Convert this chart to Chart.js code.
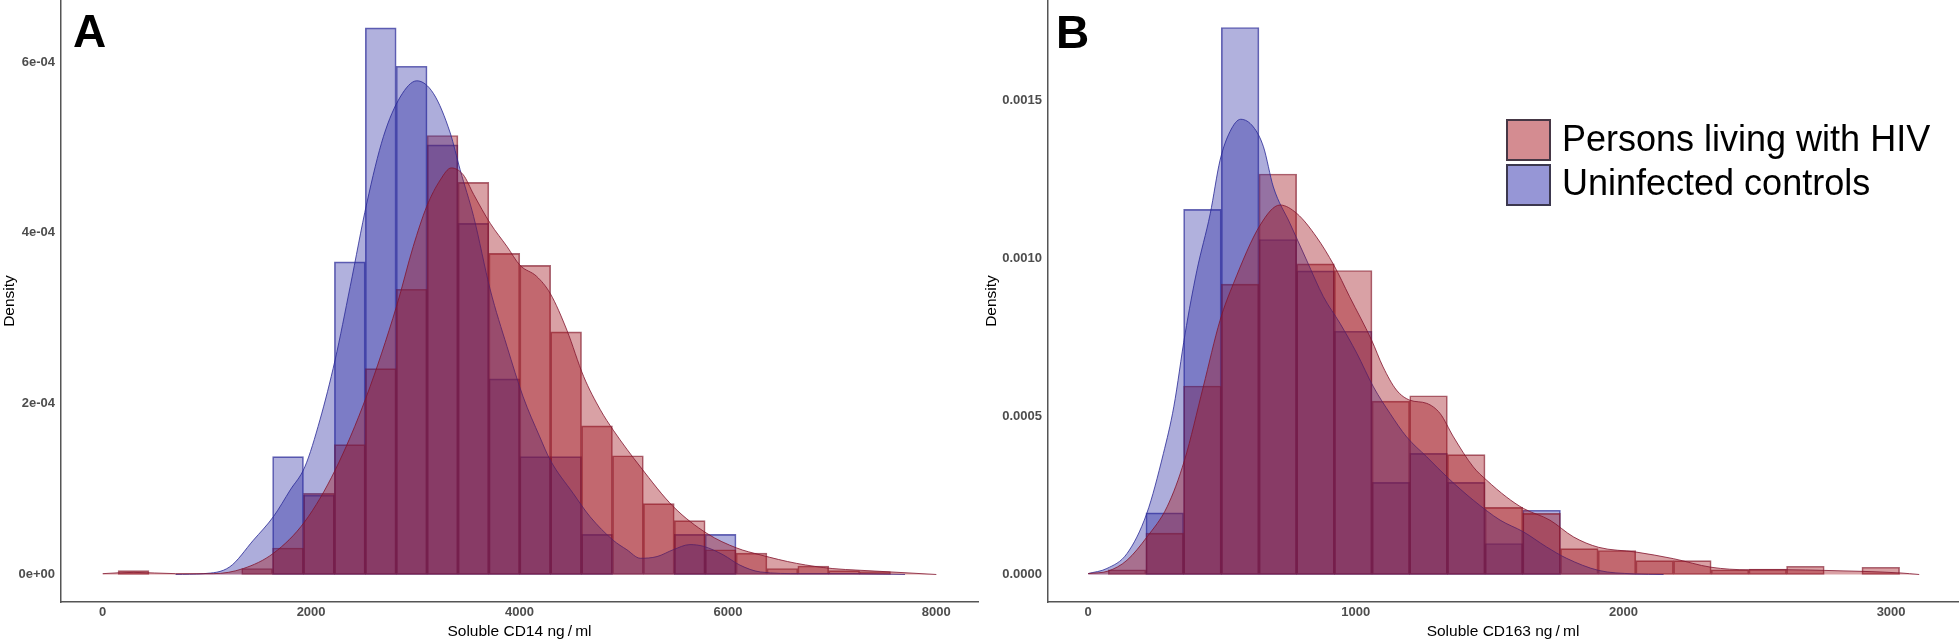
<!DOCTYPE html>
<html>
<head>
<meta charset="utf-8">
<script src="https://cdn.jsdelivr.net/npm/chart.js@4.4.0/dist/chart.umd.min.js"></script>
<style>
  body { margin: 0; background: #fff; width: 1960px; height: 643px; overflow: hidden; position: relative;
         font-family: "Liberation Sans", Arial, Helvetica, sans-serif; }
  canvas { position: absolute; top: 0; }
  #cd14 { left: 0; }
  #cd163 { left: 980px; }
  .tag { position: absolute; font-size: 46px; font-weight: bold; line-height: 1; color: #000; }
  .key { position: absolute; width: 41px; height: 38px; border: 2px solid rgba(45, 40, 55, 0.85); }
  .keytext { position: absolute; font-size: 36px; line-height: 1; color: #000; white-space: nowrap; }
</style>
</head>
<body>
<canvas id="cd14" width="980" height="643"></canvas>
<canvas id="cd163" width="980" height="643"></canvas>

<div class="tag" style="left:73px; top:8px;">A</div>
<div class="tag" style="left:1056px; top:9px;">B</div>

<div class="key" style="left:1506px; top:119px; background: rgb(212,140,145);"></div>
<div class="keytext" style="left:1562px; top:121px;">Persons living with HIV</div>
<div class="key" style="left:1506px; top:164px; background: rgb(150,150,214);"></div>
<div class="keytext" style="left:1562px; top:165px;">Uninfected controls</div>

<script>
// ---- panel A: soluble CD14 ----
const cd14Bins = [296.25, 592.75, 889.25, 1185.75, 1482.25, 1778.75, 2075.25, 2371.75, 2668.25,
  2964.75, 3261.25, 3557.75, 3854.25, 4150.75, 4447.25, 4743.75, 5040.25, 5336.75, 5633.25,
  5929.75, 6226.25, 6522.75, 6819.25, 7115.75, 7412.25];
const cd14Hiv = [0.045e-4, 0, 0, 0, 0.07e-4, 0.31e-4, 0.95e-4, 1.52e-4, 2.41e-4, 3.34e-4, 5.14e-4,
  4.59e-4, 3.76e-4, 3.62e-4, 2.84e-4, 1.74e-4, 1.39e-4, 0.83e-4, 0.63e-4, 0.29e-4, 0.25e-4,
  0.07e-4, 0.10e-4, 0.045e-4, 0.035e-4];
const cd14Ctrl = [0, 0, 0, 0, 0, 1.38e-4, 0.93e-4, 3.66e-4, 6.40e-4, 5.95e-4, 5.03e-4, 4.11e-4,
  2.29e-4, 1.38e-4, 1.38e-4, 0.47e-4, 0, 0, 0.47e-4, 0.47e-4, 0, 0, 0, 0, 0];

const cd14HivCurveX = [0, 300, 700, 1060, 1350, 1640, 1940, 2230, 2530, 2820, 2980, 3110, 3240,
  3345, 3460, 3560, 3720, 3880, 4005, 4165, 4295, 4455, 4615, 4775, 4900, 5160, 5480, 5800,
  6085, 6310, 6660, 7000, 7260, 7560, 8000];
const cd14HivCurveY = [0.01e-4, 0.025e-4, 0.01e-4, 0.01e-4, 0.07e-4, 0.25e-4, 0.62e-4, 1.22e-4,
  2.08e-4, 3.14e-4, 3.84e-4, 4.31e-4, 4.62e-4, 4.76e-4, 4.68e-4, 4.45e-4, 4.11e-4, 3.84e-4,
  3.62e-4, 3.49e-4, 3.29e-4, 2.86e-4, 2.32e-4, 1.93e-4, 1.69e-4, 1.26e-4, 0.79e-4, 0.48e-4,
  0.31e-4, 0.23e-4, 0.13e-4, 0.07e-4, 0.05e-4, 0.03e-4, 0];
const cd14CtrlCurveX = [700, 970, 1220, 1445, 1640, 1800, 1940, 2085, 2230, 2375, 2535, 2695,
  2855, 3015, 3175, 3335, 3430, 3560, 3720, 3880, 4035, 4195, 4295, 4515, 4675, 4900, 5030,
  5160, 5320, 5475, 5635, 5765, 5955, 6115, 6310, 6700, 7200, 7700];
const cd14CtrlCurveY = [0, 0.01e-4, 0.09e-4, 0.40e-4, 0.68e-4, 0.99e-4, 1.26e-4, 1.81e-4, 2.51e-4,
  3.37e-4, 4.35e-4, 5.13e-4, 5.59e-4, 5.78e-4, 5.63e-4, 5.17e-4, 4.74e-4, 4.19e-4, 3.33e-4,
  2.67e-4, 2.08e-4, 1.61e-4, 1.34e-4, 0.95e-4, 0.68e-4, 0.40e-4, 0.29e-4, 0.19e-4, 0.21e-4,
  0.29e-4, 0.35e-4, 0.33e-4, 0.23e-4, 0.11e-4, 0.03e-4, 0.01e-4, 0.01e-4, 0];

const cd14XTicks = [0, 2000, 4000, 6000, 8000];
const cd14XLabels = ['0', '2000', '4000', '6000', '8000'];
const cd14YTicks = [0, 2e-4, 4e-4, 6e-4];
const cd14YLabels = ['0e+00', '2e-04', '4e-04', '6e-04'];

// ---- panel B: soluble CD163 ----
const cd163Bins = [145.4, 286.2, 427.0, 567.8, 708.6, 849.4, 990.2, 1131.0, 1271.8, 1412.6,
  1553.4, 1694.2, 1835.0, 1975.8, 2116.6, 2257.4, 2398.2, 2539.0, 2679.8, 2820.6, 2961.4];
const cd163Hiv = [0.15e-4, 1.31e-4, 5.96e-4, 9.18e-4, 12.66e-4, 9.82e-4, 9.61e-4, 5.48e-4,
  5.65e-4, 3.79e-4, 2.12e-4, 1.93e-4, 0.82e-4, 0.76e-4, 0.44e-4, 0.44e-4, 0.15e-4, 0.17e-4,
  0.26e-4, 0, 0.23e-4];
const cd163Ctrl = [0, 1.95e-4, 11.54e-4, 17.29e-4, 10.59e-4, 9.60e-4, 7.69e-4, 2.91e-4, 3.83e-4,
  2.91e-4, 0.98e-4, 2.03e-4, 0, 0, 0, 0, 0, 0, 0, 0, 0];

const cd163HivCurveX = [0, 75, 145, 220, 295, 360, 430, 493, 543, 643, 717, 780, 853, 918, 977,
  1059, 1102, 1152, 1202, 1265, 1315, 1365, 1439, 1489, 1563, 1626, 1725, 1813, 1907, 2047,
  2187, 2327, 2467, 2610, 2750, 2892, 3033, 3105];
const cd163HivCurveY = [0.03e-4, 0.11e-4, 0.45e-4, 1.19e-4, 2.14e-4, 3.61e-4, 5.93e-4, 8.04e-4,
  9.20e-4, 11.05e-4, 11.68e-4, 11.41e-4, 10.67e-4, 9.78e-4, 8.78e-4, 7.41e-4, 6.56e-4, 5.83e-4,
  5.51e-4, 5.41e-4, 5.09e-4, 4.35e-4, 3.40e-4, 2.98e-4, 2.45e-4, 2.09e-4, 1.72e-4, 1.19e-4,
  0.86e-4, 0.71e-4, 0.50e-4, 0.23e-4, 0.15e-4, 0.15e-4, 0.13e-4, 0.10e-4, 0.05e-4, 0];
const cd163CtrlCurveX = [0, 70, 145, 219, 281, 320, 362, 406, 456, 493, 530, 570, 617, 655, 692,
  754, 816, 879, 941, 1004, 1066, 1128, 1190, 1265, 1346, 1439, 1539, 1626, 1713, 1788, 1907,
  2037, 2150];
const cd163CtrlCurveY = [0.03e-4, 0.19e-4, 0.66e-4, 1.93e-4, 3.82e-4, 5.3e-4, 7.6e-4, 9.6e-4,
  11.4e-4, 13.1e-4, 14.0e-4, 14.39e-4, 14.15e-4, 13.52e-4, 12.25e-4, 11.1e-4, 9.94e-4, 8.78e-4,
  7.94e-4, 6.99e-4, 5.93e-4, 5.09e-4, 4.35e-4, 3.72e-4, 3.04e-4, 2.35e-4, 1.72e-4, 1.35e-4,
  0.87e-4, 0.51e-4, 0.13e-4, 0.02e-4, 0];

const cd163XTicks = [0, 1000, 2000, 3000];
const cd163XLabels = ['0', '1000', '2000', '3000'];
const cd163YTicks = [0, 5e-4, 10e-4, 15e-4];
const cd163YLabels = ['0.0000', '0.0005', '0.0010', '0.0015'];

Chart.defaults.font.family = '"Liberation Sans", Arial, Helvetica, sans-serif';

const red = [160, 20, 30];
const blue = [40, 40, 160];
function rgba(c, a) { return 'rgba(' + c[0] + ',' + c[1] + ',' + c[2] + ',' + a + ')'; }
function pts(xs, ys) { return xs.map((x, i) => ({ x: x, y: ys[i] })); }

function densityChart(id, d) {
  var ctx = document.getElementById(id).getContext('2d');
  return new Chart(ctx, {
    type: 'bar',
    data: {
      datasets: [
        { type: 'line', label: 'Persons living with HIV', data: pts(d.hivCurveX, d.hivCurveY),
          order: 1, fill: 'origin', cubicInterpolationMode: 'monotone', pointRadius: 0,
          borderWidth: 1, borderColor: rgba([130, 20, 45], 0.8), backgroundColor: rgba(red, 0.4) },
        { type: 'line', label: 'Uninfected controls', data: pts(d.ctrlCurveX, d.ctrlCurveY),
          order: 2, fill: 'origin', cubicInterpolationMode: 'monotone', pointRadius: 0,
          borderWidth: 1, borderColor: rgba([40, 40, 150], 0.8), backgroundColor: rgba(blue, 0.38) },
        { label: 'Persons living with HIV', data: pts(d.bins, d.hiv), order: 3, grouped: false,
          barPercentage: 1, categoryPercentage: 1, borderSkipped: false, borderWidth: 1,
          borderColor: rgba([125, 20, 40], 0.65), backgroundColor: rgba(red, 0.4) },
        { label: 'Uninfected controls', data: pts(d.bins, d.ctrl), order: 4, grouped: false,
          barPercentage: 1, categoryPercentage: 1, borderSkipped: false, borderWidth: 1,
          borderColor: rgba([40, 40, 150], 0.7), backgroundColor: rgba(blue, 0.36) }
      ]
    },
    options: {
      responsive: false,
      devicePixelRatio: 1,
      animation: false,
      layout: { padding: { left: 0, right: 2, top: 0, bottom: 0 }, autoPadding: false },
      plugins: { legend: { display: false }, tooltip: { enabled: false } },
      scales: {
        x: {
          type: 'linear', offset: false, min: d.xMin, max: d.xMax,
          grid: { display: false, drawTicks: false },
          border: { display: true, color: '#555', width: 1.5 },
          afterBuildTicks: (s) => { s.ticks = d.xTicks.map(v => ({ value: v })); },
          afterFit: (s) => { s.height = 41; s.paddingLeft = 0; s.paddingRight = 0; },
          ticks: { padding: 3, color: '#4d4d4d', font: { size: 13, weight: 'bold' },
                   maxRotation: 0, autoSkip: false,
                   callback: (v) => d.xLabels[d.xTicks.indexOf(v)] },
          title: { display: true, text: d.xTitle, color: '#000', font: { size: 15.5 },
                   padding: { top: 0, bottom: 2 } }
        },
        y: {
          type: 'linear', min: d.yMin, max: d.yMax,
          grid: { display: false, drawTicks: false },
          border: { display: true, color: '#555', width: 1.5 },
          afterBuildTicks: (s) => { s.ticks = d.yTicks.map(v => ({ value: v })); },
          afterFit: (s) => { s.width = d.yWidth; s.paddingTop = 0; s.paddingBottom = 0; },
          ticks: { padding: 6, color: '#4d4d4d', font: { size: 13, weight: 'bold' },
                   callback: (v) => d.yLabels[d.yTicks.indexOf(v)] },
          title: { display: true, text: 'Density', color: '#000', font: { size: 15.5 },
                   padding: { top: d.yTitlePad, bottom: 0 } }
        }
      }
    }
  });
}

densityChart('cd14', {
  bins: cd14Bins, hiv: cd14Hiv, ctrl: cd14Ctrl,
  hivCurveX: cd14HivCurveX, hivCurveY: cd14HivCurveY,
  ctrlCurveX: cd14CtrlCurveX, ctrlCurveY: cd14CtrlCurveY,
  xMin: -400, xMax: 8400, yMin: -0.322e-4, yMax: 6.726e-4,
  xTicks: cd14XTicks, xLabels: cd14XLabels, yTicks: cd14YTicks, yLabels: cd14YLabels,
  xTitle: 'Soluble CD14 ng\u2009/\u2009ml', yWidth: 61, yTitlePad: 0
});

densityChart('cd163', {
  bins: cd163Bins, hiv: cd163Hiv, ctrl: cd163Ctrl,
  hivCurveX: cd163HivCurveX, hivCurveY: cd163HivCurveY,
  ctrlCurveX: cd163CtrlCurveX, ctrlCurveY: cd163CtrlCurveY,
  xMin: -150, xMax: 3250, yMin: -0.869e-4, yMax: 18.16e-4,
  xTicks: cd163XTicks, xLabels: cd163XLabels, yTicks: cd163YTicks, yLabels: cd163YLabels,
  xTitle: 'Soluble CD163 ng\u2009/\u2009ml', yWidth: 68, yTitlePad: 2
});
</script>
</body>
</html>
